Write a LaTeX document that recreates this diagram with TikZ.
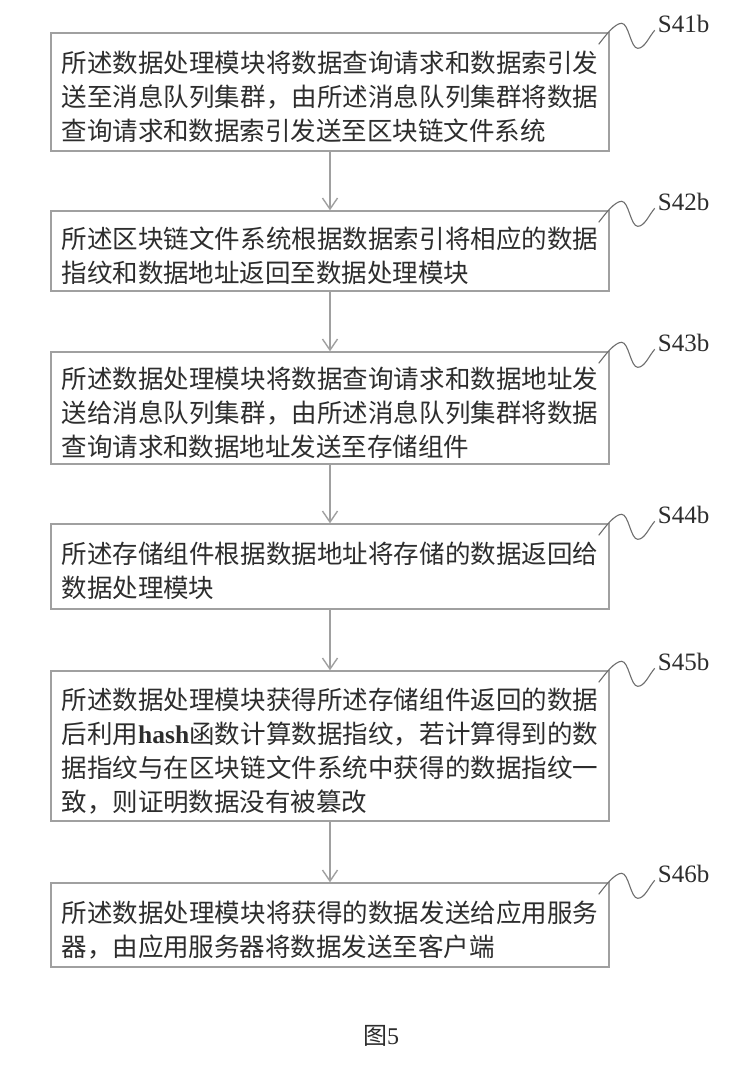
\documentclass[tikz,border=0pt]{standalone}
\usepackage{fontspec}
\setmainfont{Liberation Serif}
\newfontfamily\cjk{Noto Sans CJK SC}
\usetikzlibrary{arrows.meta,calc}
\definecolor{edge}{RGB}{160,160,160}
\definecolor{ink}{RGB}{45,45,45}
\definecolor{wavec}{RGB}{110,110,110}
\makeatletter
\def\spr@loop#1{\ifx\@nil#1\unskip\else#1\hspace{0pt plus 1fil}\expandafter\spr@loop\fi}
\newcommand\spr[1]{\noindent\hbox to 537pt{\spr@loop#1\@nil}}
\makeatother
\newcommand\wavefrom[2]{%
  \draw[wave] ($(#1.north east)+(-11,-12)$)
    .. controls +(7,9) and +(-7,0) .. ($(#1.north east)+(12,9)$)
    .. controls +(7,0) and +(-7,0) .. ($(#1.north east)+(28,-16)$)
    .. controls +(7,0) and +(-6,-7) .. ($(#2.base west)+(-3,2)$);}
\begin{document}
\begin{tikzpicture}[x=1pt,y=1pt,
  stepbox/.style={draw=edge, line width=1.4pt, minimum width=558pt, text width=537pt,
    inner xsep=10.5pt, inner ysep=0pt, align=left,
    font=\cjk\fontsize{25.5pt}{34pt}\selectfont, text=ink, anchor=center,
    execute at begin node={\rule{0pt}{31pt}}},
  lbl/.style={font=\fontsize{25pt}{25pt}\selectfont, text=ink, anchor=base west, inner sep=0pt},
  wave/.style={draw=wavec, line width=1.1pt},
  arr/.style={draw=edge, line width=1.4pt, -{Straight Barb[length=11pt,width=15pt]}}]
\useasboundingbox (0,0) rectangle (750,-1080);
\fill[white] (0,0) rectangle (750,-1080);

\node[stepbox, minimum height=118pt] (b1) at (330,-92)
  {\spr{所述数据处理模块将数据查询请求和数据索引发}\\
   \spr{送至消息队列集群，由所述消息队列集群将数据}\\
   查询请求和数据索引发送至区块链文件系统};
\node[stepbox, minimum height=80pt] (b2) at (330,-251)
  {\spr{所述区块链文件系统根据数据索引将相应的数据}\\
   指纹和数据地址返回至数据处理模块};
\node[stepbox, minimum height=112pt] (b3) at (330,-408)
  {\spr{所述数据处理模块将数据查询请求和数据地址发}\\
   \spr{送给消息队列集群，由所述消息队列集群将数据}\\
   查询请求和数据地址发送至存储组件};
\node[stepbox, minimum height=85pt] (b4) at (330,-566.5)
  {\spr{所述存储组件根据数据地址将存储的数据返回给}\\
   数据处理模块};
\node[stepbox, minimum height=150pt] (b5) at (330,-746)
  {\spr{所述数据处理模块获得所述存储组件返回的数据}\\
   \spr{后利用{{\rmfamily\bfseries hash}}函数计算数据指纹，若计算得到的数}\\
   \spr{据指纹与在区块链文件系统中获得的数据指纹一}\\
   致，则证明数据没有被篡改};
\node[stepbox, minimum height=84pt] (b6) at (330,-925)
  {\spr{所述数据处理模块将获得的数据发送给应用服务}\\
   器，由应用服务器将数据发送至客户端};

\node[lbl] (l1) at ($(b1.north east)+(48,0)$) {S41b};
\node[lbl] (l2) at ($(b2.north east)+(48,0)$) {S42b};
\node[lbl] (l3) at ($(b3.north east)+(48,0)$) {S43b};
\node[lbl] (l4) at ($(b4.north east)+(48,0)$) {S44b};
\node[lbl] (l5) at ($(b5.north east)+(48,0)$) {S45b};
\node[lbl] (l6) at ($(b6.north east)+(48,0)$) {S46b};

\wavefrom{b1}{l1}
\wavefrom{b2}{l2}
\wavefrom{b3}{l3}
\wavefrom{b4}{l4}
\wavefrom{b5}{l5}
\wavefrom{b6}{l6}

\draw[arr] (b1.south) -- (b2.north);
\draw[arr] (b2.south) -- (b3.north);
\draw[arr] (b3.south) -- (b4.north);
\draw[arr] (b4.south) -- (b5.north);
\draw[arr] (b5.south) -- (b6.north);

\node[font=\fontsize{24pt}{24pt}\selectfont, text=ink] (cap) at (381,-1036) {{\cjk 图}5};
\end{tikzpicture}
\end{document}
